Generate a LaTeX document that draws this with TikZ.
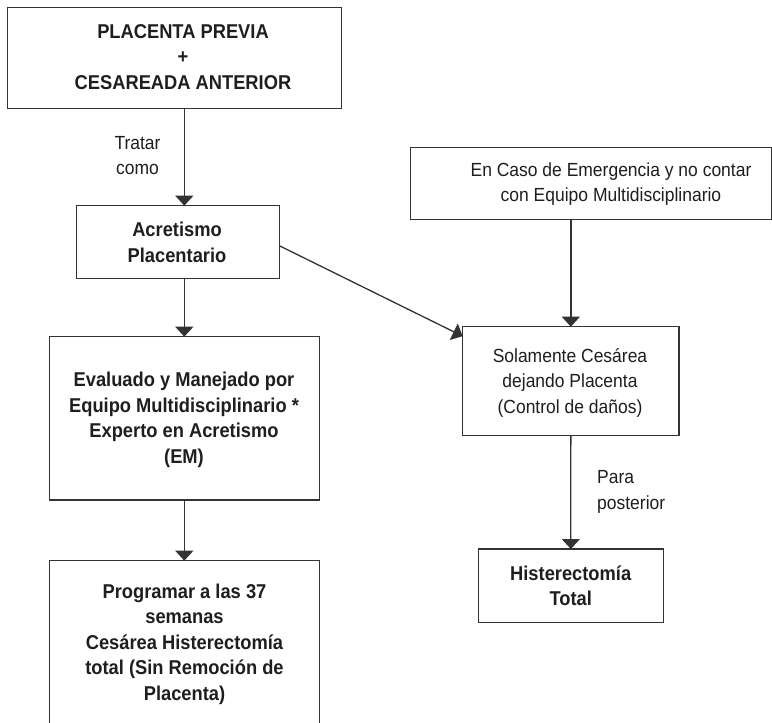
\documentclass[tikz,border=0pt]{standalone}
\usepackage{fontspec}
\usetikzlibrary{arrows.meta,calc}
\newfontfamily\regfont{Liberation Sans}[FakeStretch=0.92]
\newfontfamily\heavyfont{Liberation Sans}[FakeStretch=0.915]
\definecolor{ink}{HTML}{1E1E1E}
\definecolor{edge}{HTML}{333333}
\begin{document}
\begin{tikzpicture}[x=1pt,y=-1pt,
  box/.style={draw=edge,line width=1.5pt,rectangle,inner sep=0pt,outer sep=0pt},
  plain/.style={text=ink,align=center,inner sep=0pt,font=\regfont\fontsize{19}{25.5}\selectfont},
  strong/.style={text=ink,align=center,inner sep=0pt,font=\heavyfont\bfseries\fontsize{20}{25.5}\selectfont},
  flow/.style={draw=edge,line width=1.3pt,-{Triangle[width=18pt,length=10pt]}}]
\useasboundingbox (0,0) rectangle (772,723);

% boxes
\node[box,minimum width=334.4pt,minimum height=101pt] (b1) at (174.5,57.8) {};
\node[box,minimum width=202.6pt,minimum height=72.6pt] (b2) at (178,242) {};
\node[box,minimum width=361pt,minimum height=72pt] (b3) at (591.2,183.3) {};
\node[box,minimum width=216.3pt,minimum height=109pt] (b4) at (570.85,381.2) {};
\node[box,minimum width=270pt,minimum height=163.3pt] (b5) at (184.3,418.35) {};
\node[box,minimum width=270pt,minimum height=169.3pt] (b6) at (184.3,645.35) {};
\node[box,minimum width=185pt,minimum height=73.7pt] (b7) at (570.8,585.85) {};

% box texts
\node[strong] (t1) at (183,57) {PLACENTA PREVIA\\+\\CESAREADA ANTERIOR};
\node[strong] (t2) at (177,242.5) {Acretismo\\Placentario};
\node[plain] (t3) at (611,184) {En Caso de Emergencia y no contar\\con Equipo Multidisciplinario};
\node[plain] (t4) at (570,382.6) {Solamente Cesárea\\dejando Placenta\\(Control de daños)};
\node[strong] (t5) at (184,420) {Evaluado y Manejado por\\Equipo Multidisciplinario *\\Experto en Acretismo\\(EM)};
\node[strong] (t6) at (184.5,644) {Programar a las 37\\semanas\\Cesárea Histerectomía\\total (Sin Remoción de\\Placenta)};
\node[strong] (t7) at (570.7,586) {Histerectomía\\Total};

% connector labels
\node[plain] (l1) at (137.5,155.5) {Tratar\\como};
\node[plain,anchor=west,align=left] (l2) at (597,492) {Para\\posterior};

% connectors
\draw[flow] (b1.south -| b5.north) -- (b2.north -| b5.north);
\draw[flow] (b2.south -| b5.north) -- (b5.north);
\draw[flow] (b5.south) -- (b6.north);
\draw[flow] ($(b2.east)+(0,3.7)$) -- ($(b4.north west)+(0,9.5)$);
\draw[flow] (b3.south -| b4.north) -- (b4.north);
\draw[flow] (b4.south) -- (b7.north);
\end{tikzpicture}
\end{document}
